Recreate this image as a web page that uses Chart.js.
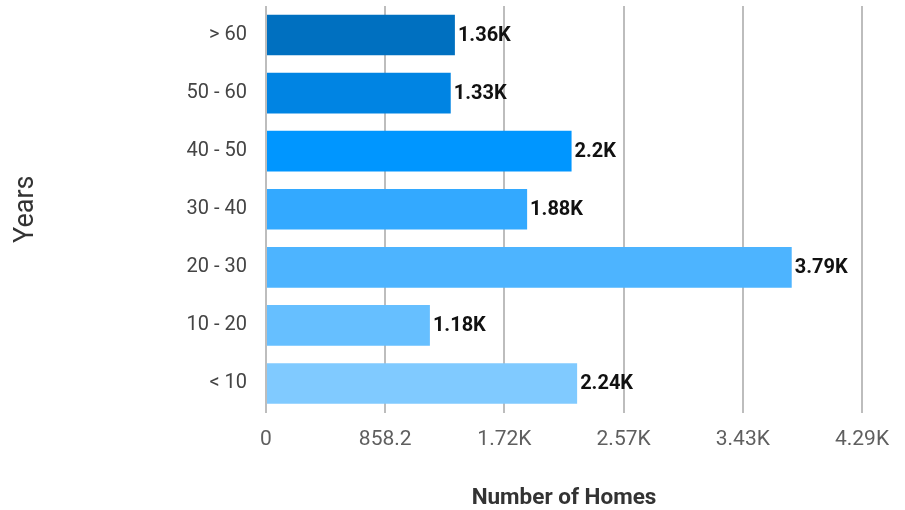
<!DOCTYPE html>
<html>
<head>
<meta charset="utf-8">
<script src="https://cdn.jsdelivr.net/npm/chart.js@4/dist/chart.umd.min.js"></script>
<style>
    html, body { margin: 0; padding: 0; background: #fff; }
    #wrap { width: 905px; height: 510px; }
</style>
</head>
<body>
<div id="wrap"><canvas id="homesChart"></canvas></div>
<script>
// Age of homes, top to bottom
const categories = ['> 60', '50 - 60', '40 - 50', '30 - 40', '20 - 30', '10 - 20', '< 10'];
const homeCounts = [1360, 1330, 2200, 1880, 3785, 1180, 2240];
const barColors = ['#0070c0', '#0084e3', '#0096ff', '#33a9ff', '#4db4ff', '#66bfff', '#80caff'];
const axisMax = 4291;
const axisStep = 858.2;

// Function to format numbers like "1.72K"
function formatShort(v) {
    if (Math.abs(v) >= 1000) {
        return parseFloat((v / 1000).toFixed(2)) + 'K';
    }
    return String(parseFloat(v.toFixed(2)));
}

// Draw the value at the end of each bar
const barValueLabels = {
    id: 'barValueLabels',
    afterDatasetsDraw(chart) {
        const ctx = chart.ctx;
        const meta = chart.getDatasetMeta(0);
        ctx.save();
        ctx.font = 'bold 20px Roboto';
        ctx.fillStyle = '#111';
        ctx.textAlign = 'left';
        ctx.textBaseline = 'middle';
        meta.data.forEach((bar, i) => {
            ctx.fillText(formatShort(homeCounts[i]), bar.x + 3, bar.y + 1);
        });
        ctx.restore();
    }
};

const ctx = document.getElementById('homesChart').getContext('2d');
const homesChart = new Chart(ctx, {
    type: 'bar',
    data: {
        labels: categories,
        datasets: [{
            label: 'Number of Homes',
            data: homeCounts,
            backgroundColor: barColors,
            categoryPercentage: 1,
            barPercentage: 0.7
        }]
    },
    plugins: [barValueLabels],
    options: {
        indexAxis: 'y',
        responsive: true,
        maintainAspectRatio: false,
        animation: false,
        layout: {
            padding: { top: 6, right: 43, bottom: 0, left: 0 }
        },
        plugins: {
            legend: { display: false },
            tooltip: { enabled: false }
        },
        scales: {
            x: {
                min: 0,
                max: axisMax,
                border: { display: false },
                grid: {
                    color: '#bdbdbd',
                    lineWidth: 2,
                    drawTicks: false
                },
                ticks: {
                    stepSize: axisStep,
                    padding: 15,
                    color: '#5f5f5f',
                    font: { family: 'Roboto', size: 21 },
                    maxRotation: 0,
                    callback: (v) => formatShort(v)
                },
                title: {
                    display: true,
                    text: 'Number of Homes',
                    color: '#333',
                    font: { family: 'Roboto', size: 22.5, weight: 'bold' },
                    padding: { top: 0, bottom: -2 }
                },
                afterFit(scale) {
                    scale.height = 97.5;
                }
            },
            y: {
                border: { display: false },
                grid: { display: false, drawTicks: false },
                ticks: {
                    padding: 19,
                    color: '#444',
                    font: { family: 'Roboto', size: 20 }
                },
                title: {
                    display: true,
                    text: 'Years',
                    color: '#333',
                    font: { family: 'Roboto', size: 27 },
                    padding: { top: 10, bottom: 0 }
                },
                afterFit(scale) {
                    scale.width = 266;
                    scale.paddingTop = 0;
                    scale.paddingBottom = 0;
                }
            }
        }
    }
});
</script>
</body>
</html>
